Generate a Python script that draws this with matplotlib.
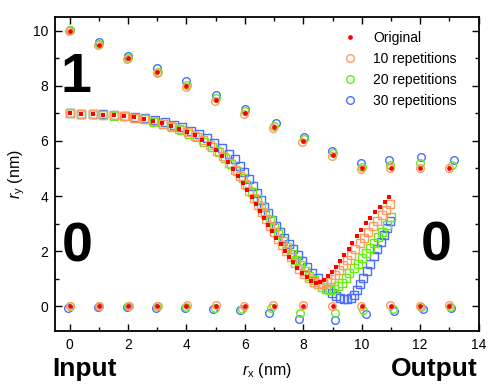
import numpy as np
import matplotlib.pyplot as plt
from matplotlib.ticker import MultipleLocator

plt.rcParams['font.family'] = ['Liberation Sans', 'DejaVu Sans']
plt.rcParams['mathtext.fontset'] = 'custom'
plt.rcParams['mathtext.rm'] = 'Liberation Sans'
plt.rcParams['mathtext.it'] = 'Liberation Sans:italic'

# --- trajectory (squares) ---
orig_x = [0.00, 0.40, 0.79, 1.15, 1.51, 1.87, 2.22, 2.55, 2.86, 3.18, 3.46, 3.74, 4.02, 4.28, 4.53, 4.77,
          5.00, 5.21, 5.41, 5.60, 5.78, 5.94, 6.09, 6.24, 6.38, 6.52, 6.66, 6.80, 6.94, 7.08, 7.22, 7.36,
          7.50, 7.65, 7.80, 7.95, 8.11, 8.27, 8.44, 8.58, 8.72, 8.86, 8.99, 9.13, 9.26, 9.41, 9.55, 9.68,
          9.83, 9.99, 10.14, 10.29, 10.44, 10.61, 10.78, 10.95]
orig_y = [7.00, 6.98, 6.97, 6.96, 6.93, 6.91, 6.86, 6.80, 6.73, 6.64, 6.55, 6.45, 6.33, 6.20, 6.05, 5.88,
          5.68, 5.47, 5.24, 4.99, 4.74, 4.48, 4.22, 3.96, 3.71, 3.46, 3.21, 2.96, 2.72, 2.48, 2.25, 2.02,
          1.80, 1.59, 1.39, 1.21, 1.05, 0.93, 0.85, 0.87, 0.96, 1.09, 1.25, 1.43, 1.64, 1.85, 2.06, 2.30,
          2.55, 2.76, 3.01, 3.21, 3.41, 3.61, 3.79, 3.97]

r10_x = [0.00, 0.40, 0.79, 1.15, 1.51, 1.87, 2.22, 2.55, 2.87, 3.19, 3.48, 3.76, 4.04, 4.31, 4.56, 4.81,
         5.04, 5.25, 5.46, 5.65, 5.83, 6.00, 6.15, 6.30, 6.44, 6.58, 6.72, 6.86, 7.00, 7.14, 7.28, 7.42,
         7.57, 7.72, 7.87, 8.03, 8.19, 8.35, 8.51, 8.66, 8.80, 8.94, 9.08, 9.22, 9.36, 9.50, 9.64, 9.78,
         9.93, 10.08, 10.23, 10.38, 10.53, 10.68, 10.83, 10.98]
r10_y = [7.00, 6.98, 6.97, 6.95, 6.93, 6.90, 6.85, 6.79, 6.72, 6.63, 6.53, 6.43, 6.31, 6.17, 6.02, 5.85,
         5.65, 5.44, 5.21, 4.96, 4.71, 4.45, 4.19, 3.93, 3.68, 3.43, 3.18, 2.93, 2.69, 2.45, 2.22, 1.99,
         1.77, 1.56, 1.36, 1.18, 1.02, 0.89, 0.81, 0.80, 0.87, 0.99, 1.14, 1.31, 1.49, 1.68, 1.87, 2.07,
         2.28, 2.49, 2.70, 2.91, 3.11, 3.31, 3.51, 3.70]

r20_x = [0.00, 0.40, 0.79, 1.16, 1.52, 1.88, 2.23, 2.57, 2.89, 3.21, 3.51, 3.80, 4.08, 4.35, 4.61, 4.86,
         5.10, 5.32, 5.53, 5.73, 5.92, 6.09, 6.25, 6.40, 6.55, 6.70, 6.85, 7.00, 7.15, 7.30, 7.45, 7.60,
         7.75, 7.90, 8.05, 8.20, 8.35, 8.50, 8.64, 8.78, 8.92, 9.06, 9.19, 9.32, 9.45, 9.58, 9.72, 9.86,
         10.00, 10.14, 10.28, 10.42, 10.56, 10.70, 10.85, 11.00]
r20_y = [7.00, 6.98, 6.97, 6.95, 6.92, 6.89, 6.84, 6.78, 6.70, 6.61, 6.51, 6.40, 6.27, 6.13, 5.97, 5.79,
         5.59, 5.38, 5.15, 4.91, 4.66, 4.40, 4.14, 3.88, 3.62, 3.37, 3.12, 2.87, 2.62, 2.38, 2.14, 1.91,
         1.69, 1.48, 1.28, 1.10, 0.94, 0.80, 0.69, 0.61, 0.58, 0.62, 0.72, 0.86, 1.02, 1.19, 1.37, 1.55,
         1.74, 1.93, 2.12, 2.31, 2.50, 2.70, 2.95, 3.23]

r30_x = [0.00, 0.40, 0.79, 1.16, 1.53, 1.89, 2.25, 2.59, 2.92, 3.25, 3.56, 3.86, 4.15, 4.43, 4.70, 4.96,
         5.21, 5.44, 5.66, 5.83, 5.98, 6.13, 6.27, 6.41, 6.54, 6.67, 6.80, 6.93, 7.07, 7.21, 7.35, 7.50,
         7.65, 7.81, 7.97, 8.14, 8.31, 8.49, 8.66, 8.83, 8.98, 9.12, 9.26, 9.38, 9.50, 9.62, 9.74, 9.84,
         9.94, 10.05, 10.17, 10.29, 10.41, 10.53, 10.65, 10.76, 10.86, 10.96]
r30_y = [7.00, 6.99, 6.98, 6.97, 6.95, 6.92, 6.88, 6.83, 6.76, 6.68, 6.59, 6.49, 6.37, 6.24, 6.09, 5.93,
         5.74, 5.54, 5.33, 5.10, 4.86, 4.61, 4.36, 4.10, 3.85, 3.61, 3.37, 3.14, 2.91, 2.69, 2.48, 2.27,
         2.06, 1.85, 1.64, 1.43, 1.22, 1.01, 0.82, 0.64, 0.49, 0.38, 0.31, 0.28, 0.28, 0.31, 0.40, 0.58,
         0.80, 1.04, 1.29, 1.55, 1.81, 2.07, 2.33, 2.59, 2.84, 3.08]

# --- "1" row and "0" row (circles) ---
top_orig_x = [0, 1, 2, 3, 4, 5, 6, 7, 8, 9, 10, 11, 12, 13]
top_orig_y = [10.0, 9.5, 9.0, 8.5, 8.0, 7.5, 7.0, 6.5, 6.0, 5.5, 5.0, 5.0, 5.0, 5.0]
top10_x = [-0.02, 0.98, 1.98, 2.98, 3.97, 4.97, 5.97, 6.97, 7.97, 8.97, 9.98, 10.98, 11.98, 12.98]
top10_y = [9.99, 9.49, 8.98, 8.47, 7.97, 7.46, 6.97, 6.46, 5.97, 5.47, 4.98, 5.00, 5.02, 5.02]
top20_x = [0.01, 1.01, 2.01, 3.01, 4.01, 5.01, 6.01, 7.01, 8.01, 9.01, 10.01, 10.97, 12.00, 13.08]
top20_y = [10.01, 9.52, 9.00, 8.52, 8.04, 7.55, 7.07, 6.56, 6.06, 5.56, 5.07, 5.13, 5.19, 5.13]
top30_x = [0.00, 1.00, 2.00, 3.00, 4.00, 5.00, 6.00, 7.05, 8.02, 8.99, 9.98, 10.93, 12.03, 13.15]
top30_y = [10.03, 9.59, 9.10, 8.64, 8.19, 7.67, 7.15, 6.64, 6.13, 5.65, 5.19, 5.31, 5.43, 5.31]

bot_orig_x = [0, 1, 2, 3, 4, 5, 6, 7, 8, 9, 10, 11, 12, 13]
bot_orig_y = [0, 0, 0, 0, 0, 0, 0, 0, 0, 0, 0, 0, 0, 0]
bot10_x = [0.02, 1.02, 2.02, 3.02, 4.02, 5.02, 5.98, 6.98, 7.98, 8.98, 9.98, 10.98, 11.98, 12.98]
bot10_y = [0.02, 0.02, 0.02, 0.02, 0.03, 0.03, 0.02, 0.03, 0.03, 0.02, 0.02, 0.03, 0.02, 0.03]
bot20_x = [0.00, 1.00, 2.00, 3.00, 4.00, 4.97, 5.91, 6.90, 7.90, 9.07, 10.06, 11.06, 12.03, 13.02]
bot20_y = [0.00, 0.00, 0.00, 0.00, -0.02, -0.05, -0.09, -0.05, -0.23, -0.23, -0.12, -0.11, -0.02, -0.02]
bot30_x = [-0.04, 0.96, 1.96, 2.96, 3.95, 4.92, 5.85, 6.82, 7.84, 9.10, 10.15, 11.12, 12.09, 13.07]
bot30_y = [-0.05, -0.04, -0.04, -0.05, -0.07, -0.09, -0.12, -0.24, -0.47, -0.51, -0.27, -0.17, -0.11, -0.05]

labels = ['Original', '10 repetitions', '20 repetitions', '30 repetitions']
c_red, c_or, c_gr, c_bl = '#ff0000', '#ff9a60', '#66ee11', '#4a6cff'

fig = plt.figure(figsize=(4.98, 3.88), dpi=100)
ax = fig.add_axes([0.1104, 0.1469, 0.8506, 0.8093])

open_kw = dict(ls='none', mfc='none', mew=1.0)
series = [(r30_x, r30_y, top30_x, top30_y, bot30_x, bot30_y, c_bl, labels[3], 2),
          (r20_x, r20_y, top20_x, top20_y, bot20_x, bot20_y, c_gr, labels[2], 3),
          (r10_x, r10_y, top10_x, top10_y, bot10_x, bot10_y, c_or, labels[1], 4)]
handles = {}
for sx, sy, tx, ty, bx, by, col, lab, z in series:
    ax.plot(sx, sy, 's', ms=5.2, mec=col, zorder=z, **open_kw)
    ax.plot(bx, by, 'o', ms=5.5, mec=col, zorder=z, **open_kw)
    h, = ax.plot(tx, ty, 'o', ms=5.5, mec=col, zorder=z, label=lab, **open_kw)
    handles[lab] = h

ax.plot(orig_x, orig_y, 's', ms=3.0, color=c_red, mew=0, zorder=5)
ax.plot(bot_orig_x, bot_orig_y, 'o', ms=3.4, color=c_red, mew=0, zorder=5)
h, = ax.plot(top_orig_x, top_orig_y, 'o', ms=3.4, color=c_red, mew=0, zorder=5, label=labels[0])
handles[labels[0]] = h

ax.legend([handles[l] for l in labels], labels, loc='upper left', bbox_to_anchor=(0.64, 0.995),
          frameon=False, fontsize=10, numpoints=1, handlelength=1.7, handletextpad=0.8,
          labelspacing=0.5, borderpad=0.4)

ax.set_xlim(-0.5, 14)
ax.set_ylim(-0.9, 10.5)
ax.xaxis.set_major_locator(MultipleLocator(2))
ax.xaxis.set_minor_locator(MultipleLocator(1))
ax.yaxis.set_major_locator(MultipleLocator(2))
ax.yaxis.set_minor_locator(MultipleLocator(1))
ax.tick_params(which='both', direction='in', top=True, right=True, width=1, labelsize=10, color='black')
ax.tick_params(which='major', length=5, pad=5)
ax.tick_params(which='minor', length=3)
for s in ax.spines.values():
    s.set_linewidth(1.3)

ax.set_xlabel('$r_\\mathrm{x}$ (nm)', fontsize=11.5)
ax.set_ylabel('$r_\\mathrm{y}$ (nm)', fontsize=11.5)
ax.xaxis.set_label_coords(0.5, -0.095)
ax.yaxis.set_label_coords(-0.065, 0.5)

ax.text(0.23, 7.78, '1', fontsize=40, fontweight='bold', ha='center', va='baseline')
ax.text(0.27, 1.61, '0', fontsize=40, fontweight='bold', ha='center', va='baseline')
ax.text(12.55, 1.67, '0', fontsize=40, fontweight='bold', ha='center', va='baseline')

fig.text(52.7 / 498, 1 - 376 / 388, 'Input', fontsize=19, fontweight='bold', ha='left', va='baseline')
fig.text(477.7 / 498, 1 - 376 / 388, 'Output', fontsize=19, fontweight='bold', ha='right', va='baseline')

fig.savefig('out.png', dpi=100)
